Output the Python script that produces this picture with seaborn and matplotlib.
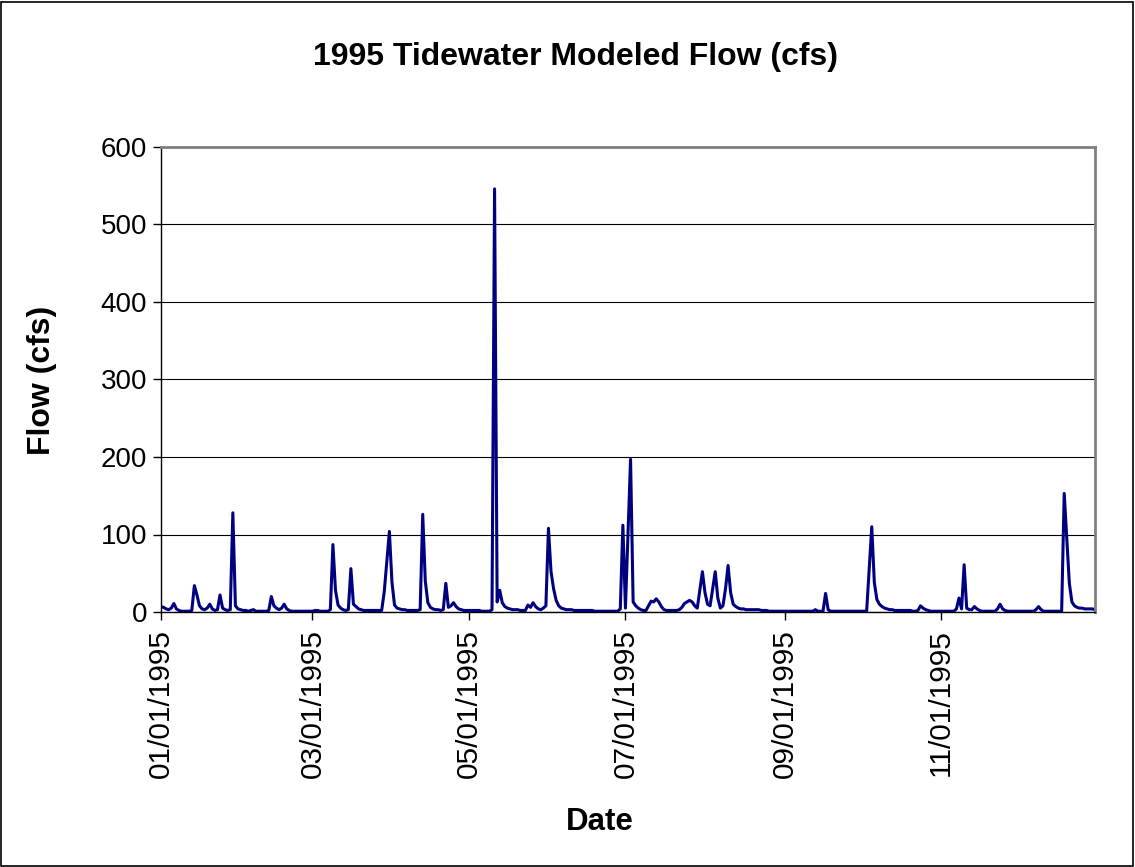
import pandas as pd
import matplotlib
matplotlib.use("Agg")
import matplotlib.pyplot as plt
import matplotlib.dates as mdates
import seaborn as sns
from matplotlib.patches import Rectangle

# daily modeled flow (cfs), 1995
jan = [7, 6, 4, 3, 5, 11, 4, 2, 1, 1, 1, 1, 2, 34, 22, 8, 4, 3, 5, 10, 4, 2, 3, 22, 5, 3, 2, 3, 128, 8, 4]
feb = [3, 2, 2, 1, 2, 3, 1, 1, 1, 1, 1, 2, 20, 8, 5, 3, 5, 10, 4, 2, 1, 1, 1, 1, 1, 1, 1, 1]
mar = [1, 2, 2, 1, 1, 1, 1, 3, 87, 28, 9, 5, 3, 2, 3, 56, 10, 7, 4, 3, 2, 2, 2, 2, 2, 2, 2, 2, 26, 65, 104]
apr = [39, 9, 5, 4, 3, 3, 2, 2, 2, 2, 2, 3, 126, 40, 12, 6, 4, 3, 3, 2, 3, 37, 6, 8, 12, 7, 4, 3, 2, 2]
may = [2, 2, 2, 2, 2, 1, 1, 1, 1, 3, 546, 13, 28, 12, 7, 5, 4, 3, 3, 3, 2, 2, 2, 9, 6, 12, 7, 4, 3, 5, 8]
jun = [108, 52, 30, 15, 8, 5, 4, 3, 3, 3, 2, 2, 2, 2, 2, 2, 2, 2, 1, 1, 1, 1, 1, 1, 1, 1, 1, 1, 4, 112]
jul = [5, 100, 197, 13, 8, 5, 3, 2, 2, 8, 14, 13, 17, 13, 7, 3, 2, 2, 2, 2, 2, 3, 6, 11, 13, 15, 13, 8, 5, 28, 52]
aug = [25, 10, 8, 30, 52, 18, 5, 8, 30, 60, 25, 10, 7, 5, 4, 4, 3, 3, 3, 3, 3, 3, 2, 2, 2, 1, 1, 1, 1, 1, 1]
sep = [1, 1, 1, 1, 1, 1, 1, 1, 1, 1, 1, 1, 3, 1, 1, 1, 24, 3, 1, 1, 1, 1, 1, 1, 1, 1, 1, 1, 1, 1]
oct_ = [1, 1, 1, 55, 110, 38, 16, 10, 7, 5, 4, 3, 3, 2, 2, 2, 2, 2, 2, 2, 1, 1, 2, 8, 5, 3, 2, 1, 1, 1, 1]
nov = [1, 1, 1, 1, 1, 1, 4, 18, 4, 61, 5, 3, 3, 7, 4, 2, 1, 1, 1, 1, 1, 1, 4, 10, 4, 2, 1, 1, 1, 1]
dec = [1, 1, 1, 1, 1, 1, 1, 3, 7, 3, 1, 1, 1, 1, 1, 1, 1, 1, 153, 95, 37, 13, 8, 6, 5, 5, 4, 4, 4, 4, 3]

y_ticks = [0, 100, 200, 300, 400, 500, 600]
x_tick_dates = ["1995-01-01", "1995-03-01", "1995-05-01", "1995-07-01", "1995-09-01", "1995-11-01"]

flow = jan + feb + mar + apr + may + jun + jul + aug + sep + oct_ + nov + dec
df = pd.DataFrame({"date": pd.date_range("1995-01-01", "1995-12-31", freq="D"), "flow": flow})

sns.set_style("white")
plt.rcParams["font.family"] = ["Liberation Sans", "DejaVu Sans"]
plt.rcParams["text.color"] = "black"
plt.rcParams["xtick.color"] = "black"
plt.rcParams["ytick.color"] = "black"

W, H = 1135, 867
fig = plt.figure(figsize=(W / 100, H / 100), dpi=100)
ax = fig.add_axes([161 / W, (H - 612) / H, (1095 - 161) / W, (612 - 147) / H])

sns.lineplot(data=df, x="date", y="flow", ax=ax, color="#000080", linewidth=2.2)

ax.set_xlim(pd.Timestamp("1995-01-01"), pd.Timestamp("1995-12-31"))
ax.set_ylim(0, 600)
ax.set_yticks(y_ticks)
ax.set_xticks(pd.to_datetime(x_tick_dates))
ax.xaxis.set_major_formatter(mdates.DateFormatter("%m/%d/%Y"))
ax.tick_params(axis="x", rotation=90, labelsize=21.5, length=6, width=1, colors="black", direction="out", bottom=True, pad=6)
ax.tick_params(axis="y", labelsize=20, length=6, width=1, colors="black", direction="out", left=True, pad=4)
ax.yaxis.grid(True, color="black", linewidth=0.8)
ax.set_axisbelow(True)

for side in ["left", "bottom"]:
    ax.spines[side].set_color("black")
    ax.spines[side].set_linewidth(1.0)
for side in ["top", "right"]:
    ax.spines[side].set_color("#808080")
    ax.spines[side].set_linewidth(2.0)

ax.set_xlabel("")
ax.set_ylabel("")
fig.text(575 / W, 1 - 57 / H, "1995 Tidewater Modeled Flow (cfs)", ha="center", va="center",
         fontsize=23, fontweight="bold", color="black")
fig.text(600 / W, 1 - 822 / H, "Date", ha="center", va="center", fontsize=22.5, fontweight="bold", color="black")
fig.text(42 / W, 1 - 380 / H, "Flow (cfs)", ha="center", va="center", rotation=90,
         fontsize=23, fontweight="bold", color="black")

# chart area border
fig.patches.append(Rectangle((1 / W, 1 / H), (W - 3) / W, (H - 3) / H, transform=fig.transFigure,
                             fill=False, edgecolor="black", linewidth=1.2))

fig.savefig("out.png", dpi=100)
